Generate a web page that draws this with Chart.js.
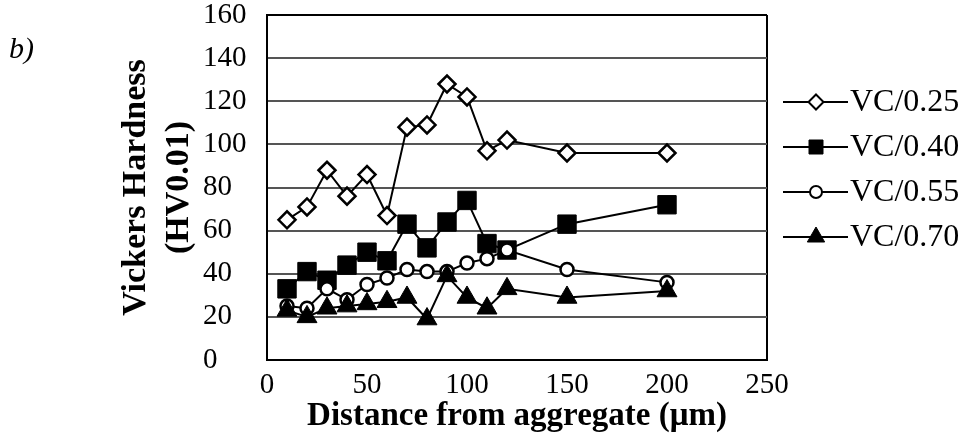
<!DOCTYPE html>
<html>
<head>
<meta charset="utf-8">
<script src="https://cdn.jsdelivr.net/npm/chart.js@4/dist/chart.umd.min.js"></script>
<style>
html, body { margin: 0; padding: 0; background: #fff; }
#wrap { width: 968px; height: 436px; }
</style>
</head>
<body>
<div id="wrap"><canvas id="hardnessChart" width="968" height="436"></canvas></div>
<script>
const distances = [10, 20, 30, 40, 50, 60, 70, 80, 90, 100, 110, 120, 150, 200];
const vc025 = [65, 71, 88, 76, 86, 67, 108, 109, 128, 122, 97, 102, 96, 96];
const vc040 = [33, 41, 37, 44, 50, 46, 63, 52, 64, 74, 54, 51, 63, 72];
const vc055 = [25, 24, 33, 28, 35, 38, 42, 41, 41, 45, 47, 51, 42, 36];
const vc070 = [23, 20, 24, 25, 26, 27, 29, 19, 39, 29, 24, 33, 29, 32];
const seriesNames = ['VC/0.25', 'VC/0.40', 'VC/0.55', 'VC/0.70'];
const xTicks = [0, 50, 100, 150, 200, 250];
const yTicks = [0, 20, 40, 60, 80, 100, 120, 140, 160];

const SERIF = '"Liberation Serif", "Times New Roman", serif';

function points(values) {
  return distances.map((d, i) => ({x: d, y: values[i]}));
}

function series(label, values, style, fill, radius, border, order) {
  return {
    label: label,
    data: points(values),
    showLine: true,
    borderColor: '#000',
    borderWidth: 2,
    pointStyle: style,
    pointRadius: radius,
    pointHoverRadius: radius,
    pointBackgroundColor: fill,
    pointBorderColor: '#000',
    pointBorderWidth: border,
    order: order
  };
}

// small marker on the legend line
function legendMarker(ctx, style, fill, x, y) {
  ctx.beginPath();
  if (style === 'rectRot') {
    const r = 7.5;
    ctx.moveTo(x, y - r); ctx.lineTo(x + r, y); ctx.lineTo(x, y + r); ctx.lineTo(x - r, y);
    ctx.closePath();
    ctx.lineWidth = 2;
  } else if (style === 'rect') {
    ctx.rect(x - 7, y - 7, 14, 14);
    ctx.lineWidth = 1;
  } else if (style === 'circle') {
    ctx.arc(x, y, 6, 0, Math.PI * 2);
    ctx.lineWidth = 2;
  } else {
    const r = 10;
    ctx.moveTo(x, y - r);
    ctx.lineTo(x + r * 0.866, y + r * 0.5);
    ctx.lineTo(x - r * 0.866, y + r * 0.5);
    ctx.closePath();
    ctx.lineWidth = 1;
  }
  ctx.fillStyle = fill;
  ctx.fill();
  ctx.strokeStyle = '#000';
  ctx.stroke();
}

const sideLegend = {
  id: 'sideLegend',
  afterDraw(chart) {
    const ctx = chart.ctx;
    ctx.save();
    ctx.fillStyle = '#000';
    ctx.textBaseline = 'middle';
    ctx.font = 'italic 30px ' + SERIF;
    ctx.fillText('b)', 9, 50);

    chart.data.datasets.forEach((ds, i) => {
      const y = 102 + i * 45;
      ctx.strokeStyle = '#000';
      ctx.lineWidth = 2;
      ctx.beginPath();
      ctx.moveTo(783, y);
      ctx.lineTo(848, y);
      ctx.stroke();
      legendMarker(ctx, ds.pointStyle, ds.pointBackgroundColor, 816, y);
      ctx.fillStyle = '#000';
      ctx.font = '32px ' + SERIF;
      ctx.textAlign = 'left';
      ctx.fillText(ds.label, 850, y + 1);
    });
    ctx.restore();
  }
};

const config = {
  type: 'scatter',
  data: {
    datasets: [
      series(seriesNames[0], vc025, 'rectRot', '#fff', 8.5, 2.5, 3),
      series(seriesNames[1], vc040, 'rect', '#000', 13, 1, 2),
      series(seriesNames[2], vc055, 'circle', '#fff', 6.5, 2.5, 1),
      series(seriesNames[3], vc070, 'triangle', '#000', 11.5, 1, 0)
    ]
  },
  options: {
    responsive: false,
    animation: false,
    devicePixelRatio: 1,
    layout: {padding: {left: 203, right: 201, top: 15, bottom: 0}},
    plugins: {legend: {display: false}, tooltip: {enabled: false}},
    scales: {
      x: {
        type: 'linear',
        min: 0,
        max: 250,
        afterBuildTicks: s => { s.ticks = xTicks.map(v => ({value: v})); },
        afterFit: s => { s.height = 76; s.paddingLeft = 0; s.paddingRight = 0; },
        border: {display: true, color: '#000', width: 2},
        grid: {
          drawTicks: false,
          lineWidth: 2,
          color: c => (c.tick && c.tick.value === 250 ? '#000' : 'rgba(0,0,0,0)')
        },
        ticks: {color: '#000', padding: 8, font: {family: SERIF, size: 29}},
        title: {
          display: true,
          text: 'Distance from aggregate (μm)',
          color: '#000',
          padding: {top: 0, bottom: 1},
          font: {family: SERIF, size: 33, weight: 'bold', lineHeight: 1.1}
        }
      },
      y: {
        min: 0,
        max: 160,
        afterBuildTicks: s => { s.ticks = yTicks.map(v => ({value: v})); },
        afterFit: s => { s.width = 64; s.paddingTop = 0; s.paddingBottom = 0; },
        border: {display: true, color: '#000', width: 2},
        grid: {
          drawTicks: false,
          lineWidth: 2,
          color: c => (c.tick && c.tick.value === 160 ? '#000' : '#555')
        },
        ticks: {color: '#000', crossAlign: 'far', padding: 14, font: {family: SERIF, size: 29}},
        title: {
          display: true,
          text: ['Vickers Hardness', '(HV0.01)'],
          color: '#000',
          padding: {top: -88, bottom: 0},
          font: {family: SERIF, size: 34, weight: 'bold', lineHeight: 1.25}
        }
      }
    }
  },
  plugins: [sideLegend]
};

const hardnessChart = new Chart(document.getElementById('hardnessChart'), config);
</script>
</body>
</html>
